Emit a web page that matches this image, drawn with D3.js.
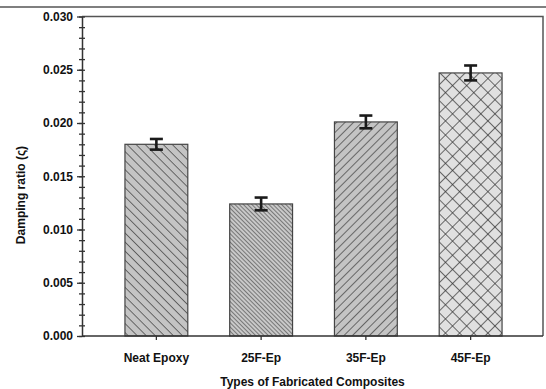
<!DOCTYPE html>
<html>
<head>
<meta charset="utf-8">
<script src="https://cdn.jsdelivr.net/npm/d3@7"></script>
<style>
  html, body { margin: 0; padding: 0; background: #fff; }
  svg { display: block; font-family: "Liberation Sans", Arial, sans-serif; }
</style>
</head>
<body>
<svg id="chart" width="546" height="389"></svg>
<script>
// Damping ratio of the fabricated composites
const categories = ["Neat Epoxy", "25F-Ep", "35F-Ep", "45F-Ep"];
const dampingRatio = [0.0180, 0.0124, 0.0201, 0.0247];
const dampingError = [0.0005, 0.0006, 0.0006, 0.0007];
const yTickValues = [0, 0.005, 0.010, 0.015, 0.020, 0.025, 0.030];
const yMinorValues = d3.range(0, 31).map(i => i / 1000);

const svg = d3.select("#chart");
const W = 546, H = 389;
const plot = { left: 82, right: 543, top: 16.5, bottom: 336 };

// hatch patterns, one per composite
const defs = svg.append("defs");
function hatch(id, fill, spacing, angles, strokeW) {
  const p = defs.append("pattern")
    .attr("id", id)
    .attr("patternUnits", "userSpaceOnUse")
    .attr("width", spacing)
    .attr("height", spacing * 40);
  p.append("rect").attr("width", spacing).attr("height", spacing * 40).attr("fill", fill);
  return p;
}
function lines(id, fill, spacing, angle, strokeW) {
  const p = defs.append("pattern")
    .attr("id", id)
    .attr("patternUnits", "userSpaceOnUse")
    .attr("width", spacing)
    .attr("height", spacing)
    .attr("patternTransform", `rotate(${angle})`);
  p.append("rect").attr("width", spacing).attr("height", spacing).attr("fill", fill);
  p.append("line").attr("x1", 0).attr("y1", -1).attr("x2", 0).attr("y2", spacing + 1)
    .attr("stroke", "#333").attr("stroke-width", strokeW);
  return p;
}
lines("pat0", "#c4c4c4", 6.4, -45, 1.3);
lines("pat1", "#c8c8c8", 3.0, -45, 1.1);
lines("pat2", "#c4c4c4", 6.0, 45, 1.3);
// cross hatch
(function () {
  const s = 10;
  const p = defs.append("pattern")
    .attr("id", "pat3")
    .attr("patternUnits", "userSpaceOnUse")
    .attr("width", s).attr("height", s)
    .attr("patternTransform", "rotate(45)");
  p.append("rect").attr("width", s).attr("height", s).attr("fill", "#e0e0e0");
  p.append("line").attr("x1", 0).attr("y1", -1).attr("x2", 0).attr("y2", s + 1)
    .attr("stroke", "#333").attr("stroke-width", 1.4);
  p.append("line").attr("x1", -1).attr("y1", 0).attr("x2", s + 1).attr("y2", 0)
    .attr("stroke", "#333").attr("stroke-width", 1.4);
})();
const patterns = ["url(#pat0)", "url(#pat1)", "url(#pat2)", "url(#pat3)"];

// top rule
svg.append("line")
  .attr("x1", 0).attr("x2", W).attr("y1", 7).attr("y2", 7)
  .attr("stroke", "#555").attr("stroke-width", 1.5);

const x = d3.scaleBand()
  .domain(categories)
  .range([104, 523])
  .paddingInner(0.4)
  .paddingOuter(0.2);

const y = d3.scaleLinear()
  .domain([0, 0.030])
  .range([plot.bottom, plot.top]);

// frame (top and right)
svg.append("path")
  .attr("d", `M${plot.left},${plot.top}H${plot.right}V${plot.bottom}`)
  .attr("fill", "none").attr("stroke", "#555").attr("stroke-width", 1.5);

// bars
svg.append("g").selectAll("rect")
  .data(categories)
  .join("rect")
  .attr("x", d => x(d))
  .attr("width", x.bandwidth())
  .attr("y", (d, i) => y(dampingRatio[i]))
  .attr("height", (d, i) => y(0) - y(dampingRatio[i]))
  .attr("fill", (d, i) => patterns[i])
  .attr("stroke", "#444")
  .attr("stroke-width", 1.2);

// error bars
const eb = svg.append("g").attr("stroke", "#1a1a1a").attr("stroke-width", 2.6);
categories.forEach((c, i) => {
  const cx = x(c) + x.bandwidth() / 2;
  const hi = y(dampingRatio[i] + dampingError[i]);
  const lo = y(dampingRatio[i] - dampingError[i]);
  eb.append("line").attr("x1", cx).attr("x2", cx).attr("y1", hi).attr("y2", lo);
  eb.append("line").attr("x1", cx - 6.5).attr("x2", cx + 6.5).attr("y1", hi).attr("y2", hi);
  eb.append("line").attr("x1", cx - 6.5).attr("x2", cx + 6.5).attr("y1", lo).attr("y2", lo);
});

// y axis: minor ticks crossing the axis line
const yMinor = svg.append("g")
  .attr("transform", `translate(${plot.left},0)`)
  .call(d3.axisLeft(y).tickValues(yMinorValues).tickSize(3).tickFormat(""));
yMinor.select(".domain").remove();
yMinor.selectAll(".tick line").attr("x1", 3).attr("x2", -3)
  .attr("stroke", "#333").attr("stroke-width", 1.3);

// y axis: major ticks and labels
const yAxis = svg.append("g")
  .attr("transform", `translate(${plot.left},0)`)
  .call(d3.axisLeft(y).tickValues(yTickValues).tickFormat(d3.format(".3f")).tickSize(5).tickPadding(4).tickSizeOuter(0));
yAxis.select(".domain").attr("stroke", "#333").attr("stroke-width", 1.5);
yAxis.selectAll(".tick line").attr("stroke", "#333").attr("stroke-width", 1.3);
yAxis.selectAll(".tick text")
  .attr("font-size", 12).attr("font-weight", "bold").attr("fill", "#111")
  .attr("font-family", "'Liberation Sans', Arial, sans-serif");

// x axis
const xAxis = svg.append("g")
  .attr("transform", `translate(0,${plot.bottom})`)
  .call(d3.axisBottom(x).tickSize(4).tickPadding(13.5).tickSizeOuter(0));
xAxis.select(".domain").attr("d", `M${plot.left},0H${plot.right}`)
  .attr("stroke", "#333").attr("stroke-width", 1.5);
xAxis.selectAll(".tick line").attr("stroke", "#333").attr("stroke-width", 1.3);
xAxis.selectAll(".tick text")
  .attr("font-size", 12).attr("font-weight", "bold").attr("fill", "#111")
  .attr("font-family", "'Liberation Sans', Arial, sans-serif");

// axis titles
svg.append("text")
  .attr("x", (plot.left + plot.right) / 2)
  .attr("y", 386)
  .attr("text-anchor", "middle")
  .attr("font-size", 12).attr("font-weight", "bold").attr("fill", "#111")
  .text("Types of Fabricated Composites");

svg.append("text")
  .attr("transform", `translate(25,195) rotate(-90)`)
  .attr("text-anchor", "middle")
  .attr("font-size", 12).attr("font-weight", "bold").attr("fill", "#111")
  .text("Damping ratio (ς)");
</script>
</body>
</html>
